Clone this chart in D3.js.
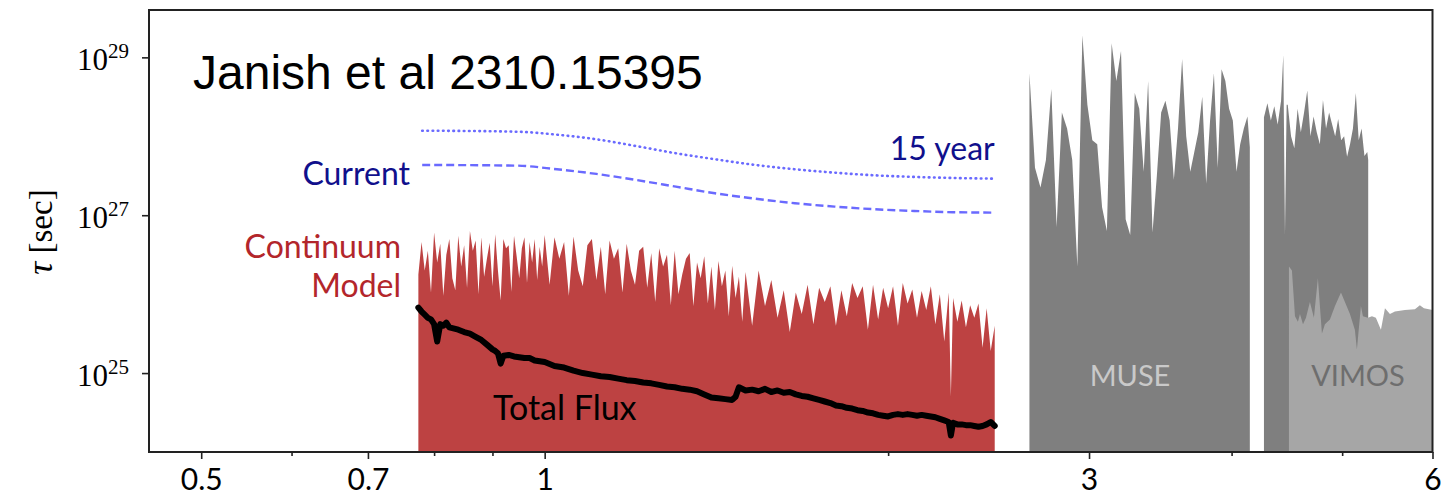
<!DOCTYPE html>
<html>
<head>
<meta charset="utf-8">
<script src="https://cdn.jsdelivr.net/npm/d3@7"></script>
<style>
  body { margin: 0; background: #fff; }
  svg { display: block; }
</style>
</head>
<body>
<svg id="chart" width="1442" height="499"></svg>
<script>
// Each entry: [mass in eV, log10(lifetime / sec)]

// Continuum model reach (red spectrum)
const continuum = [
  [0.775,26.25],[0.780,26.66],[0.785,26.30],[0.790,26.55],[0.795,26.02],[0.800,26.78],[0.805,26.40],[0.810,26.64],
  [0.815,25.98],[0.820,26.50],[0.825,26.70],[0.830,26.20],[0.835,26.05],[0.840,26.74],[0.845,26.35],[0.850,26.62],
  [0.855,26.08],[0.860,26.80],[0.865,26.55],[0.870,26.68],[0.875,26.00],[0.880,26.72],[0.885,26.22],[0.890,26.45],
  [0.895,26.65],[0.900,26.10],[0.905,26.76],[0.910,26.30],[0.915,25.92],[0.920,26.70],[0.925,26.58],[0.930,26.62],
  [0.935,26.03],[0.940,26.74],[0.945,26.48],[0.950,26.20],[0.955,26.58],[0.960,26.72],[0.965,26.14],[0.970,26.66],
  [0.975,26.40],[0.980,26.70],[0.985,26.18],[0.990,26.60],[0.995,26.35],[1.000,26.75],
  [1.01,26.12],[1.02,26.72],[1.03,26.45],[1.04,26.66],[1.05,25.98],[1.06,26.73],[1.07,26.30],[1.08,26.10],
  [1.09,26.62],[1.10,26.70],[1.11,26.18],[1.12,26.60],[1.13,26.00],[1.14,26.68],[1.15,26.45],[1.16,26.58],
  [1.17,26.02],[1.18,26.64],[1.19,26.30],[1.20,26.12],[1.21,26.55],[1.22,26.60],[1.23,26.08],[1.24,26.52],
  [1.25,25.90],[1.26,26.58],[1.27,26.35],[1.28,26.50],[1.29,25.86],[1.30,26.55],[1.31,26.00],[1.32,26.25],
  [1.33,26.45],[1.34,26.52],[1.35,25.85],[1.36,26.40],[1.37,26.20],[1.38,26.48],[1.39,25.88],[1.40,26.35],
  [1.41,25.80],[1.42,26.42],[1.43,26.10],[1.44,26.30],[1.45,25.72],[1.46,26.36],[1.47,25.95],[1.48,26.22],
  [1.49,25.65],[1.50,26.28],
  [1.52,25.60],[1.54,26.30],[1.56,25.85],[1.58,26.18],[1.60,25.70],[1.62,26.05],[1.64,25.52],[1.66,26.02],
  [1.68,25.75],[1.70,26.12],[1.72,25.62],[1.74,26.08],[1.76,25.90],[1.78,26.10],[1.80,25.60],[1.82,26.05],
  [1.84,25.72],[1.86,26.14],[1.88,25.95],[1.90,26.10],[1.92,25.55],[1.94,26.12],[1.96,25.68],[1.98,26.08],
  [2.00,25.82],[2.02,26.10],[2.04,25.60],[2.06,26.14],[2.08,25.88],[2.10,26.06],[2.12,25.70],[2.14,26.04],
  [2.16,25.80],[2.18,26.10],[2.20,25.62],[2.22,26.00],[2.24,25.40],[2.26,26.02],[2.27,24.70],[2.28,25.95],
  [2.30,25.65],[2.32,25.92],[2.34,25.58],[2.36,25.86],[2.38,25.70],[2.40,25.88],[2.42,25.32],[2.44,25.82],
  [2.46,25.28],[2.48,25.60]
];

// Total flux bound (black curve)
const totalFlux = [
  [0.775,25.83],[0.78,25.78],[0.785,25.74],[0.79,25.70],[0.795,25.68],[0.80,25.62],[0.805,25.40],[0.81,25.62],
  [0.815,25.60],[0.82,25.64],[0.825,25.58],[0.83,25.57],[0.84,25.55],[0.85,25.52],[0.86,25.50],[0.87,25.46],
  [0.88,25.42],[0.89,25.36],[0.90,25.30],[0.905,25.28],[0.91,25.25],[0.915,25.12],[0.92,25.22],[0.93,25.23],
  [0.94,25.21],[0.95,25.20],[0.96,25.19],[0.97,25.19],[0.98,25.16],[0.99,25.15],[1.00,25.14],[1.02,25.09],
  [1.04,25.07],[1.06,25.03],[1.08,25.00],[1.10,24.98],[1.12,24.96],[1.14,24.95],[1.16,24.93],[1.18,24.91],
  [1.20,24.90],[1.22,24.88],[1.24,24.87],[1.26,24.85],[1.28,24.83],[1.30,24.82],[1.32,24.80],[1.34,24.79],
  [1.36,24.77],[1.38,24.73],[1.40,24.69],[1.42,24.68],[1.44,24.67],[1.46,24.66],[1.47,24.70],[1.48,24.82],
  [1.50,24.78],[1.52,24.79],[1.54,24.77],[1.56,24.80],[1.58,24.76],[1.60,24.78],[1.62,24.75],[1.64,24.76],
  [1.66,24.73],[1.68,24.71],[1.70,24.70],[1.72,24.68],[1.74,24.66],[1.76,24.64],[1.78,24.62],[1.80,24.59],
  [1.82,24.58],[1.84,24.56],[1.86,24.55],[1.88,24.53],[1.90,24.52],[1.92,24.50],[1.94,24.49],[1.96,24.47],
  [1.98,24.46],[2.00,24.45],[2.02,24.47],[2.04,24.48],[2.06,24.47],[2.08,24.48],[2.10,24.47],[2.12,24.46],
  [2.14,24.47],[2.16,24.46],[2.18,24.45],[2.20,24.44],[2.22,24.42],[2.24,24.40],[2.26,24.38],[2.27,24.21],
  [2.28,24.37],[2.30,24.35],[2.32,24.35],[2.34,24.34],[2.36,24.34],[2.38,24.33],[2.40,24.32],[2.42,24.33],
  [2.44,24.35],[2.46,24.38],[2.48,24.33]
];

// MUSE limits, red side of the notch filter
const museRed = [
  [2.66,28.80],[2.69,27.60],[2.72,27.35],[2.75,27.70],[2.78,28.60],[2.81,26.85],[2.84,28.30],[2.87,28.10],
  [2.90,27.70],[2.93,26.35],[2.96,29.28],[2.99,28.40],[3.02,27.95],[3.05,27.90],[3.08,27.10],[3.11,26.80],
  [3.14,29.18],[3.17,28.70],[3.20,29.08],[3.23,26.95],[3.26,26.75],[3.29,28.55],[3.32,28.35],[3.35,27.55],
  [3.38,28.70],[3.41,26.78],[3.44,27.50],[3.47,28.30],[3.50,28.45],[3.53,28.20],[3.56,27.45],[3.59,28.10],
  [3.62,28.98],[3.65,28.00],[3.68,27.55],[3.71,27.80],[3.74,28.05],[3.77,28.50],[3.80,27.40],[3.83,28.20],
  [3.86,28.80],[3.89,27.60],[3.92,28.85],[3.95,28.70],[3.98,28.35],[4.01,28.20],[4.04,27.55],[4.07,27.90],
  [4.10,28.10],[4.13,28.25],[4.15,27.86]
];

// MUSE limits, blue side of the notch filter
const museBlue = [
  [4.27,28.24],[4.30,28.42],[4.33,28.20],[4.36,28.38],[4.39,28.15],[4.42,28.45],[4.44,29.03],[4.455,26.75],
  [4.47,28.40],[4.48,28.40],[4.51,28.00],[4.54,27.85],[4.57,28.35],[4.60,28.05],[4.63,28.30],[4.66,28.58],
  [4.69,28.00],[4.72,28.25],[4.75,28.05],[4.78,27.90],[4.81,28.46],[4.84,28.10],[4.87,28.30],[4.90,28.15],
  [4.93,28.00],[4.96,28.22],[4.99,27.95],[5.02,28.00],[5.05,27.74],[5.08,27.90],[5.11,28.10],[5.14,28.55],
  [5.17,27.95],[5.20,28.10],[5.23,27.75],[5.26,27.80],[5.27,27.70]
];

// VIMOS limits
const vimos = [
  [4.491,26.35],[4.518,26.30],[4.546,25.72],[4.573,25.65],[4.592,25.75],[4.620,25.62],[4.648,25.70],[4.685,25.90],
  [4.723,25.70],[4.761,26.20],[4.800,25.50],[4.829,25.62],[4.878,25.68],[4.928,25.85],[4.988,26.02],[5.028,25.90],
  [5.079,25.75],[5.130,25.55],[5.151,25.30],[5.193,25.85],[5.214,25.72],[5.267,25.70],[5.310,25.72],[5.352,25.70],
  [5.407,25.55],[5.451,25.82],[5.506,25.75],[5.562,25.78],[5.675,25.80],[5.791,25.81],[5.849,25.86],[5.897,25.82],
  [6.0,25.80]
];

// Projected reach: current exposure and a 15 year program
const currentReach = [
  [0.781,27.637],[0.946,27.628],[1.025,27.582],[1.110,27.523],[1.202,27.447],[1.303,27.362],[1.410,27.278],
  [1.529,27.210],[1.657,27.152],[1.795,27.109],[1.944,27.076],[2.108,27.054],[2.279,27.038],[2.48,27.033]
];
const fifteenYearReach = [
  [0.781,28.071],[0.946,28.058],[1.025,28.020],[1.110,27.962],[1.202,27.877],[1.303,27.785],[1.410,27.709],
  [1.529,27.637],[1.657,27.582],[1.795,27.539],[1.944,27.506],[2.108,27.485],[2.279,27.472],[2.48,27.463]
];

// Axis ticks
const xMajorTicks = [0.5, 0.7, 1, 3, 6];
const xMinorTicks = [0.6, 0.8, 0.9, 2, 4, 5];
const yTickExponents = [25, 27, 29];

// ---------------------------------------------------------------
const svg = d3.select("#chart");
const plot = { left: 149, right: 1432.5, top: 10, bottom: 452 };

const x = d3.scaleLog().domain([0.45, 6]).range([plot.left, plot.right]);
const y = d3.scaleLog().domain([1e24, Math.pow(10, 29.6)]).range([plot.bottom, plot.top]);
const tau = v => Math.pow(10, v);

svg.append("defs").append("clipPath").attr("id", "plotClip")
  .append("rect")
  .attr("x", plot.left).attr("y", plot.top)
  .attr("width", plot.right - plot.left).attr("height", plot.bottom - plot.top);

const g = svg.append("g").attr("clip-path", "url(#plotClip)");

const area = d3.area()
  .x(d => x(d[0]))
  .y0(y(1e24))
  .y1(d => y(tau(d[1])));

const line = d3.line()
  .x(d => x(d[0]))
  .y(d => y(tau(d[1])));

const smoothLine = d3.line()
  .x(d => x(d[0]))
  .y(d => y(tau(d[1])))
  .curve(d3.curveMonotoneX);

// Red continuum spectrum
g.append("path").datum(continuum)
  .attr("d", area)
  .attr("fill", "#bd4242");

// Total flux curve
g.append("path").datum(totalFlux)
  .attr("d", line)
  .attr("fill", "none")
  .attr("stroke", "#000")
  .attr("stroke-width", 6)
  .attr("stroke-linejoin", "round")
  .attr("stroke-linecap", "round");

// MUSE
[museRed, museBlue].forEach(seg => {
  g.append("path").datum(seg)
    .attr("d", area)
    .attr("fill", "#7f7f7f");
});

// VIMOS
g.append("path").datum(vimos)
  .attr("d", area)
  .attr("fill", "#a6a6a6");

// Projections
g.append("path").datum(currentReach)
  .attr("d", smoothLine)
  .attr("fill", "none")
  .attr("stroke", "#6a6aff")
  .attr("stroke-width", 2.4)
  .attr("stroke-dasharray", "8,4");

g.append("path").datum(fifteenYearReach)
  .attr("d", smoothLine)
  .attr("fill", "none")
  .attr("stroke", "#6a6aff")
  .attr("stroke-width", 2.6)
  .attr("stroke-linecap", "round")
  .attr("stroke-dasharray", "0.6,4.6");

// Labels
const sans = "Lato, 'Open Sans', sans-serif";

svg.append("text")
  .attr("x", 193).attr("y", 89)
  .attr("font-family", "'Liberation Sans', Arial, sans-serif")
  .attr("font-size", 48)
  .attr("fill", "#000")
  .text("Janish et al 2310.15395");

svg.append("text")
  .attr("x", x(2.48)).attr("y", 160)
  .attr("text-anchor", "end")
  .attr("font-family", sans).attr("font-size", 32)
  .attr("fill", "#10108c")
  .text("15 year");

svg.append("text")
  .attr("x", 410).attr("y", 185)
  .attr("text-anchor", "end")
  .attr("font-family", sans).attr("font-size", 32)
  .attr("fill", "#10108c")
  .text("Current");

svg.append("text")
  .attr("x", 401).attr("y", 258)
  .attr("text-anchor", "end")
  .attr("font-family", sans).attr("font-size", 32)
  .attr("fill", "#b3262b")
  .text("Continuum");

svg.append("text")
  .attr("x", 401).attr("y", 297)
  .attr("text-anchor", "end")
  .attr("font-family", sans).attr("font-size", 32)
  .attr("fill", "#b3262b")
  .text("Model");

svg.append("text")
  .attr("x", 493).attr("y", 420)
  .attr("font-family", sans).attr("font-size", 34)
  .attr("fill", "#000")
  .text("Total Flux");

svg.append("text")
  .attr("x", 1130).attr("y", 386)
  .attr("text-anchor", "middle")
  .attr("font-family", sans).attr("font-size", 29)
  .attr("fill", "#c9c9c9")
  .text("MUSE");

svg.append("text")
  .attr("x", 1358).attr("y", 386)
  .attr("text-anchor", "middle")
  .attr("font-family", sans).attr("font-size", 29)
  .attr("fill", "#6e6e6e")
  .text("VIMOS");

// Frame
svg.append("rect")
  .attr("x", plot.left).attr("y", plot.top)
  .attr("width", plot.right - plot.left).attr("height", plot.bottom - plot.top)
  .attr("fill", "none").attr("stroke", "#222").attr("stroke-width", 2);

// X axis
const xAxisMajor = d3.axisBottom(x)
  .tickValues(xMajorTicks)
  .tickSize(7)
  .tickPadding(10)
  .tickFormat(d3.format("~g"));
const xAxisMinor = d3.axisBottom(x)
  .tickValues(xMinorTicks)
  .tickSize(4)
  .tickFormat("");

const xg = svg.append("g").attr("transform", `translate(0,${plot.bottom})`).call(xAxisMajor);
const xgm = svg.append("g").attr("transform", `translate(0,${plot.bottom})`).call(xAxisMinor);
[xg, xgm].forEach(a => {
  a.select(".domain").remove();
  a.selectAll(".tick line").attr("stroke", "#222").attr("stroke-width", 1.6);
});
xg.selectAll(".tick text")
  .attr("font-family", sans)
  .attr("font-size", 30)
  .attr("fill", "#000");

// Y axis
const yAxis = d3.axisLeft(y)
  .tickValues(yTickExponents.map(tau))
  .tickSize(7)
  .tickFormat("");
const yg = svg.append("g").attr("transform", `translate(${plot.left},0)`).call(yAxis);
yg.select(".domain").remove();
yg.selectAll(".tick line").attr("stroke", "#222").attr("stroke-width", 1.6);

const serif = "'Liberation Serif', 'DejaVu Serif', serif";
yTickExponents.forEach(e => {
  const t = svg.append("text")
    .attr("x", 129).attr("y", y(tau(e)) + 12.5)
    .attr("text-anchor", "end")
    .attr("font-family", serif)
    .attr("fill", "#000");
  t.append("tspan").attr("font-size", 31).text("10");
  t.append("tspan").attr("font-size", 21).attr("dy", -12).text(String(e));
});

// Y axis title
const yt = svg.append("text")
  .attr("transform", "translate(52,232) rotate(-90)")
  .attr("text-anchor", "middle")
  .attr("font-family", serif)
  .attr("font-size", 33)
  .attr("fill", "#000");
yt.append("tspan").attr("font-style", "italic").attr("font-size", 36).text("τ");
yt.append("tspan").text(" [sec]");
</script>
</body>
</html>
